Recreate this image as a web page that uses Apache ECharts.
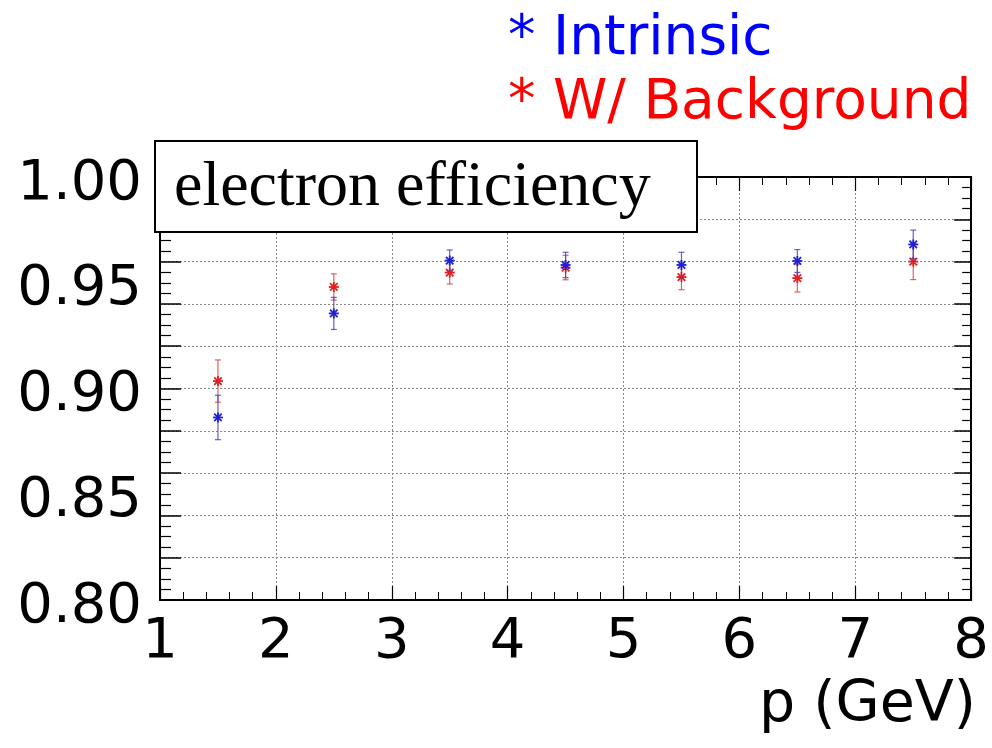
<!DOCTYPE html>
<html>
<head>
<meta charset="utf-8">
<script src="https://cdn.jsdelivr.net/npm/echarts@6/dist/echarts.min.js"></script>
<style>
html,body{margin:0;padding:0;background:#fff;}
#chart{width:992px;height:748px;}
</style>
</head>
<body>
<div id="chart"></div>
<script>
// ---- data ----
const momentum = [1.5, 2.5, 3.5, 4.5, 5.5, 6.5, 7.5];
const intrinsicEff = [0.8863, 0.9355, 0.9605, 0.9584, 0.9584, 0.9603, 0.9681];
const intrinsicErr = [0.0105, 0.0076, 0.0050, 0.0060, 0.0060, 0.0054, 0.0068];
const backgroundEff = [0.9035, 0.9480, 0.9548, 0.9572, 0.9527, 0.9522, 0.9600];
const backgroundErr = [0.0100, 0.0062, 0.0054, 0.0058, 0.0060, 0.0066, 0.0085];
const xTickLabels = ['1', '2', '3', '4', '5', '6', '7', '8'];
const yTickLabels = ['0.80', '0.85', '0.90', '0.95', '1.00'];
const legendTexts = ['* Intrinsic', '* W/ Background'];
const boxTitle = 'electron efficiency';
const xTitle = 'p (GeV)';

const chart = echarts.init(document.getElementById('chart'));

function makeRender(barColor, markColor) {
  return function (params, api) {
    const x = api.value(0), y = api.value(1), e = api.value(2);
    const c = api.coord([x, y]);
    const t = api.coord([x, y + e]);
    const b = api.coord([x, y - e]);
    const s = 5, d = s * 0.75;
    const ls = { stroke: markColor, lineWidth: 1.8 };
    const bs = { stroke: barColor, lineWidth: 1.2 };
    return {
      type: 'group',
      children: [
        { type: 'line', shape: { x1: t[0], y1: t[1], x2: b[0], y2: b[1] }, style: bs },
        { type: 'line', shape: { x1: t[0] - 3, y1: t[1], x2: t[0] + 3, y2: t[1] }, style: bs },
        { type: 'line', shape: { x1: b[0] - 3, y1: b[1], x2: b[0] + 3, y2: b[1] }, style: bs },
        { type: 'line', shape: { x1: c[0] - s, y1: c[1], x2: c[0] + s, y2: c[1] }, style: ls },
        { type: 'line', shape: { x1: c[0], y1: c[1] - s, x2: c[0], y2: c[1] + s }, style: ls },
        { type: 'line', shape: { x1: c[0] - d, y1: c[1] - d, x2: c[0] + d, y2: c[1] + d }, style: ls },
        { type: 'line', shape: { x1: c[0] - d, y1: c[1] + d, x2: c[0] + d, y2: c[1] - d }, style: ls }
      ]
    };
  };
}

const FONT = 'DejaVu Sans';
const frameLine = { show: true, onZero: false, lineStyle: { color: '#000', width: 2 } };

const option = {
  animation: false,
  backgroundColor: '#fff',
  grid: { left: 160, right: 20, top: 177, bottom: 148 },
  xAxis: [
    {
      type: 'value', min: 1, max: 8, interval: 1, position: 'bottom',
      axisLine: frameLine,
      axisTick: { show: true, inside: true, length: 14, lineStyle: { color: '#000', width: 1.2 } },
      minorTick: { show: true, splitNumber: 5, length: 8, lineStyle: { color: '#000', width: 1 } },
      splitLine: { show: true, lineStyle: { color: '#888', type: [2, 2], width: 1 } },
      axisLabel: {
        show: true, margin: 14, fontSize: 56, fontFamily: FONT, color: '#000',
        formatter: function (v) { return xTickLabels[Math.round(v) - 1]; }
      }
    },
    {
      type: 'value', min: 1, max: 8, interval: 1, position: 'top',
      axisLine: frameLine,
      axisTick: { show: true, inside: true, length: 14, lineStyle: { color: '#000', width: 1.2 } },
      minorTick: { show: true, splitNumber: 5, length: 8, lineStyle: { color: '#000', width: 1 } },
      splitLine: { show: false },
      axisLabel: { show: false }
    }
  ],
  yAxis: [
    {
      type: 'value', min: 0.8, max: 1.0, interval: 0.02, position: 'left',
      axisLine: frameLine,
      axisTick: { show: true, inside: true, length: 21, lineStyle: { color: '#000', width: 1.5 } },
      minorTick: { show: true, splitNumber: 4, length: 11, lineStyle: { color: '#000', width: 1.2 } },
      splitLine: { show: true, lineStyle: { color: '#888', type: [2, 2], width: 1 } },
      axisLabel: { show: false }
    },
    {
      type: 'value', min: 0.8, max: 1.0, interval: 0.02, position: 'right',
      axisLine: frameLine,
      axisTick: { show: true, inside: true, length: 17, lineStyle: { color: '#000', width: 1.5 } },
      minorTick: { show: true, splitNumber: 4, length: 9, lineStyle: { color: '#000', width: 1.2 } },
      splitLine: { show: false },
      axisLabel: { show: false }
    },
    {
      type: 'value', min: 0.8, max: 1.0, interval: 0.05, position: 'left',
      axisLine: { show: false }, axisTick: { show: false }, splitLine: { show: false },
      axisLabel: {
        show: true, margin: 18, color: '#000',
        formatter: function (v) { return '{a|' + yTickLabels[Math.round((v - 0.8) / 0.05)] + '}'; },
        rich: { a: { fontSize: 56, fontFamily: FONT, color: '#000', padding: [14, 0, 0, 0] } }
      }
    }
  ],
  series: [
    {
      name: 'W/ Background', type: 'custom', xAxisIndex: 0, yAxisIndex: 0,
      renderItem: makeRender('rgba(220,70,70,0.85)', '#e02020'),
      data: momentum.map((x, i) => [x, backgroundEff[i], backgroundErr[i]]),
      z: 5
    },
    {
      name: 'Intrinsic', type: 'custom', xAxisIndex: 0, yAxisIndex: 0,
      renderItem: makeRender('rgba(70,70,190,0.85)', '#2020d0'),
      data: momentum.map((x, i) => [x, intrinsicEff[i], intrinsicErr[i]]),
      z: 6
    }
  ],
  graphic: [
    {
      type: 'rect', z: 100, shape: { x: 155, y: 141, width: 542, height: 91 },
      style: { fill: '#fff', stroke: '#000', lineWidth: 2 }
    },
    {
      type: 'text', z: 101, left: 174, top: 156,
      style: { text: boxTitle, font: '64px "Liberation Serif"', fill: '#000' }
    },
    {
      type: 'text', z: 101, left: 508, top: 12,
      style: { text: legendTexts[0], font: '55px "DejaVu Sans"', fill: '#0000ff' }
    },
    {
      type: 'text', z: 101, left: 508, top: 76,
      style: { text: legendTexts[1], font: '55px "DejaVu Sans"', fill: '#ff0000' }
    },
    {
      type: 'text', z: 101, right: 16, top: 678,
      style: { text: xTitle, font: '57px "DejaVu Sans"', fill: '#000' }
    }
  ]
};
chart.setOption(option);
</script>
</body>
</html>
